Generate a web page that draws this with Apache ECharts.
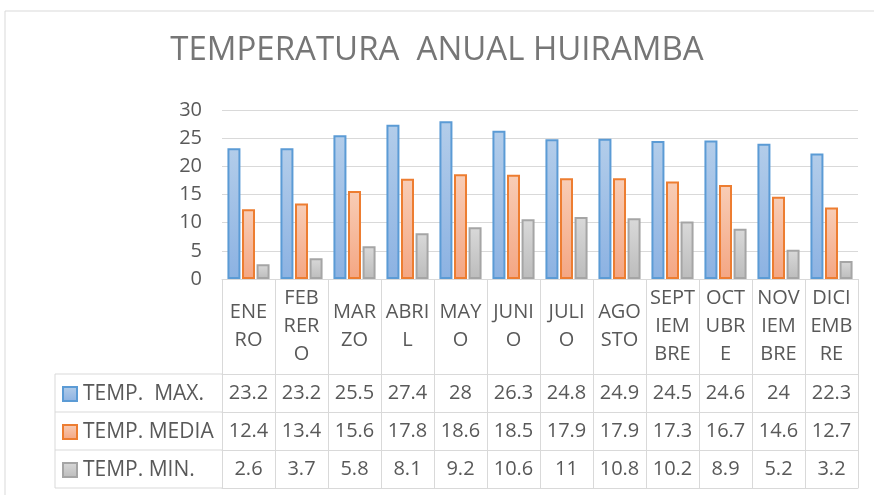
<!DOCTYPE html>
<html>
<head>
<meta charset="utf-8">
<script src="https://cdn.jsdelivr.net/npm/echarts@6/dist/echarts.min.js"></script>
<style>
  html, body { margin: 0; padding: 0; background: #fff; }
  #chart { width: 874px; height: 495px; }
</style>
</head>
<body>
<div id="chart"></div>
<script>
// month labels as wrapped in the table header
const months = ['ENE\nRO', 'FEB\nRER\nO', 'MAR\nZO', 'ABRI\nL', 'MAY\nO', 'JUNI\nO',
  'JULI\nO', 'AGO\nSTO', 'SEPT\nIEM\nBRE', 'OCT\nUBR\nE', 'NOV\nIEM\nBRE', 'DICI\nEMB\nRE']
const seriesNames = ['TEMP.  MAX.', 'TEMP. MEDIA', 'TEMP. MIN.']
const tempMax = [23.2, 23.2, 25.5, 27.4, 28, 26.3, 24.8, 24.9, 24.5, 24.6, 24, 22.3]
const tempMedia = [12.4, 13.4, 15.6, 17.8, 18.6, 18.5, 17.9, 17.9, 17.3, 16.7, 14.6, 12.7]
const tempMin = [2.6, 3.7, 5.8, 8.1, 9.2, 10.6, 11, 10.8, 10.2, 8.9, 5.2, 3.2]
const yTicks = [0, 5, 10, 15, 20, 25, 30]

const TEXT = '#595959'
const LINE = '#d9d9d9'
const FONT = 'Open Sans'

// layout of plot + data table
const plotLeft = 222, plotRight = 858, plotTop = 110, plotBottom = 279
const headerH = 95, rowH = 38, tableLeft = 55

const grad = (a, b) => new echarts.graphic.LinearGradient(0, 0, 0, 1, [
  { offset: 0, color: a }, { offset: 1, color: b }
])
const styles = [
  { color: grad('#b3cdea', '#8cb2e2'), borderColor: '#5b9bd5', borderWidth: 2 },
  { color: grad('#f8cdb6', '#f4a683'), borderColor: '#ed7d31', borderWidth: 2 },
  { color: grad('#d9d9d9', '#bcbcbc'), borderColor: '#a5a5a5', borderWidth: 2 }
]
const values = [tempMax, tempMedia, tempMin]

const chart = echarts.init(document.getElementById('chart'))

const tableAxis = (offset, vals, showTick) => ({
  type: 'category',
  gridIndex: 0,
  position: 'bottom',
  offset: offset,
  data: months,
  boundaryGap: true,
  axisLine: { show: true, lineStyle: { color: LINE, width: 1 } },
  axisTick: { show: showTick, interval: 0, length: rowH, lineStyle: { color: LINE, width: 1 } },
  axisLabel: {
    show: !!vals,
    interval: 0,
    margin: rowH / 2,
    verticalAlign: 'middle',
    color: TEXT,
    fontFamily: FONT,
    fontSize: 20,
    formatter: (v, i) => vals ? String(vals[i]) : ''
  },
  splitLine: { show: false }
})

const gfx = [
  // outer chart frame
  { type: 'rect', shape: { x: 5, y: 11, width: 900, height: 520 },
    style: { fill: null, stroke: LINE, lineWidth: 1 }, silent: true },
  { type: 'line', shape: { x1: tableLeft, y1: plotBottom + headerH, x2: tableLeft, y2: plotBottom + headerH + 3 * rowH },
    style: { stroke: LINE, lineWidth: 1 } }
]
for (let r = 0; r <= 3; r++) {
  const y = plotBottom + headerH + r * rowH
  gfx.push({ type: 'line', shape: { x1: tableLeft, y1: y, x2: plotLeft, y2: y }, style: { stroke: LINE, lineWidth: 1 } })
}

const option = {
  animation: false,
  title: {
    text: 'TEMPERATURA  ANUAL HUIRAMBA',
    left: 'center',
    top: 29,
    padding: [5, 0, 5, 16],
    textStyle: { color: '#767676', fontFamily: FONT, fontWeight: 'normal', fontSize: 33 }
  },
  legend: {
    orient: 'vertical',
    left: 62,
    top: plotBottom + headerH + 9,
    padding: 0,
    itemWidth: 14,
    itemHeight: 14,
    itemGap: rowH - 22,
    icon: 'rect',
    textStyle: { color: TEXT, fontFamily: FONT, fontSize: 21, lineHeight: 22, height: 22, padding: [0, 0, 0, 1] },
    data: seriesNames
  },
  grid: { left: plotLeft, right: 874 - plotRight, top: plotTop, bottom: 495 - plotBottom },
  xAxis: [
    {
      type: 'category',
      data: months,
      axisLine: { show: true, lineStyle: { color: LINE } },
      axisTick: { show: true, interval: 0, length: headerH, lineStyle: { color: LINE } },
      axisLabel: {
        interval: 0, margin: headerH / 2, verticalAlign: 'middle', align: 'center',
        color: TEXT, fontFamily: FONT, fontSize: 20, lineHeight: 28
      }
    },
    tableAxis(headerH, tempMax, true),
    tableAxis(headerH + rowH, tempMedia, true),
    tableAxis(headerH + 2 * rowH, tempMin, true),
    tableAxis(headerH + 3 * rowH, null, false)
  ],
  yAxis: {
    type: 'value',
    min: yTicks[0],
    max: yTicks[yTicks.length - 1],
    interval: 5,
    axisLine: { show: false },
    axisTick: { show: false },
    axisLabel: { color: TEXT, fontFamily: FONT, fontSize: 20, margin: 20 },
    splitLine: { lineStyle: { color: LINE, width: 1 } }
  },
  series: seriesNames.map((name, i) => ({
    name: name,
    type: 'bar',
    xAxisIndex: 0,
    barWidth: 13,
    barGap: '12%',
    itemStyle: styles[i],
    data: values[i]
  })),
  graphic: gfx
}

chart.setOption(option)
</script>
</body>
</html>
